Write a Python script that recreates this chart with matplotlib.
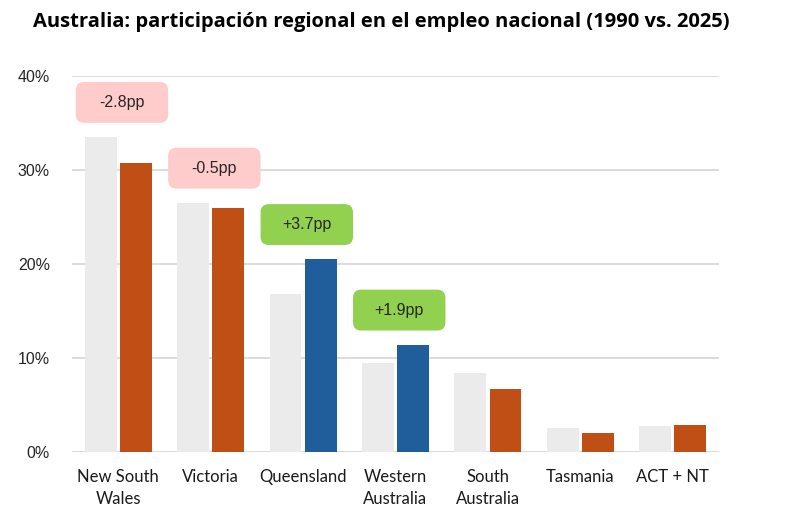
import numpy as np
import matplotlib
matplotlib.use('Agg')
import matplotlib.pyplot as plt
from matplotlib.patches import FancyBboxPatch

regions = ['New South\nWales', 'Victoria', 'Queensland', 'Western\nAustralia',
           'South\nAustralia', 'Tasmania', 'ACT + NT']
share_1990 = [33.5, 26.5, 16.8, 9.5, 8.4, 2.6, 2.8]
share_2025 = [30.7, 26.0, 20.5, 11.4, 6.7, 2.0, 2.9]
labels = ['-2.8pp', '-0.5pp', '+3.7pp', '+1.9pp', None, None, None]

grey = '#EBEBEB'
orange = '#C04F15'
blue = '#1F5E9A'
pink = '#FFCCCC'
green = '#92D050'

fig = plt.figure(figsize=(7.87, 5.21), dpi=100)
ax = fig.add_axes([0.0915, 0.1324, 0.8221, 0.7216])

x = np.arange(len(regions))
w = 0.345
gap = 0.035
ax.bar(x - w / 2 - gap / 2, share_1990, w, color=grey, zorder=2)
# growth regions are highlighted in blue
colors = [blue if (lab or '').startswith('+') else orange for lab in labels]
ax.bar(x + w / 2 + gap / 2, share_2025, w, color=colors, zorder=2)

bw, bh = 1.0, 4.35
for i, lab in enumerate(labels):
    if lab is None:
        continue
    top = max(share_1990[i], share_2025[i])
    cx, cy = x[i] + 0.04, top + 3.7
    fc = green if lab.startswith('+') else pink
    box = FancyBboxPatch((cx - bw / 2, cy - bh / 2), bw, bh,
                         boxstyle='round,pad=0,rounding_size=0.09',
                         mutation_aspect=9.8, fc=fc, ec='none', zorder=3,
                         clip_on=False)
    ax.add_patch(box)
    ax.text(cx, cy, lab, ha='center', va='center', fontsize=11.5,
            family='Liberation Sans', color='#262626', zorder=4)

ax.set_xlim(-0.5, len(regions) - 0.5)
ax.set_ylim(0, 40)
ax.set_yticks([0, 10, 20, 30, 40])
ax.set_yticklabels(['0%', '10%', '20%', '30%', '40%'], family='Liberation Sans',
                   fontsize=11.5, color='#262626')
ax.set_xticks(x)
ax.set_xticklabels(regions, family='Lato', fontsize=12, color='#1a1a1a',
                   linespacing=1.45)
ax.tick_params(axis='both', length=0)
ax.tick_params(axis='y', pad=16)
ax.tick_params(axis='x', pad=12)
ax.grid(axis='y', color='#D9D9D9', linewidth=1.3, zorder=0)
for s in ax.spines.values():
    s.set_visible(False)
ax.axhline(0, color='#D9D9D9', linewidth=1.8, zorder=1)

fig.text(0.042, 0.957, 'Australia: participación regional en el empleo nacional (1990 vs. 2025)',
         fontsize=14.5, fontweight='bold', family='Open Sans', color='black',
         ha='left', va='center')

fig.savefig('out.png', dpi=100)
